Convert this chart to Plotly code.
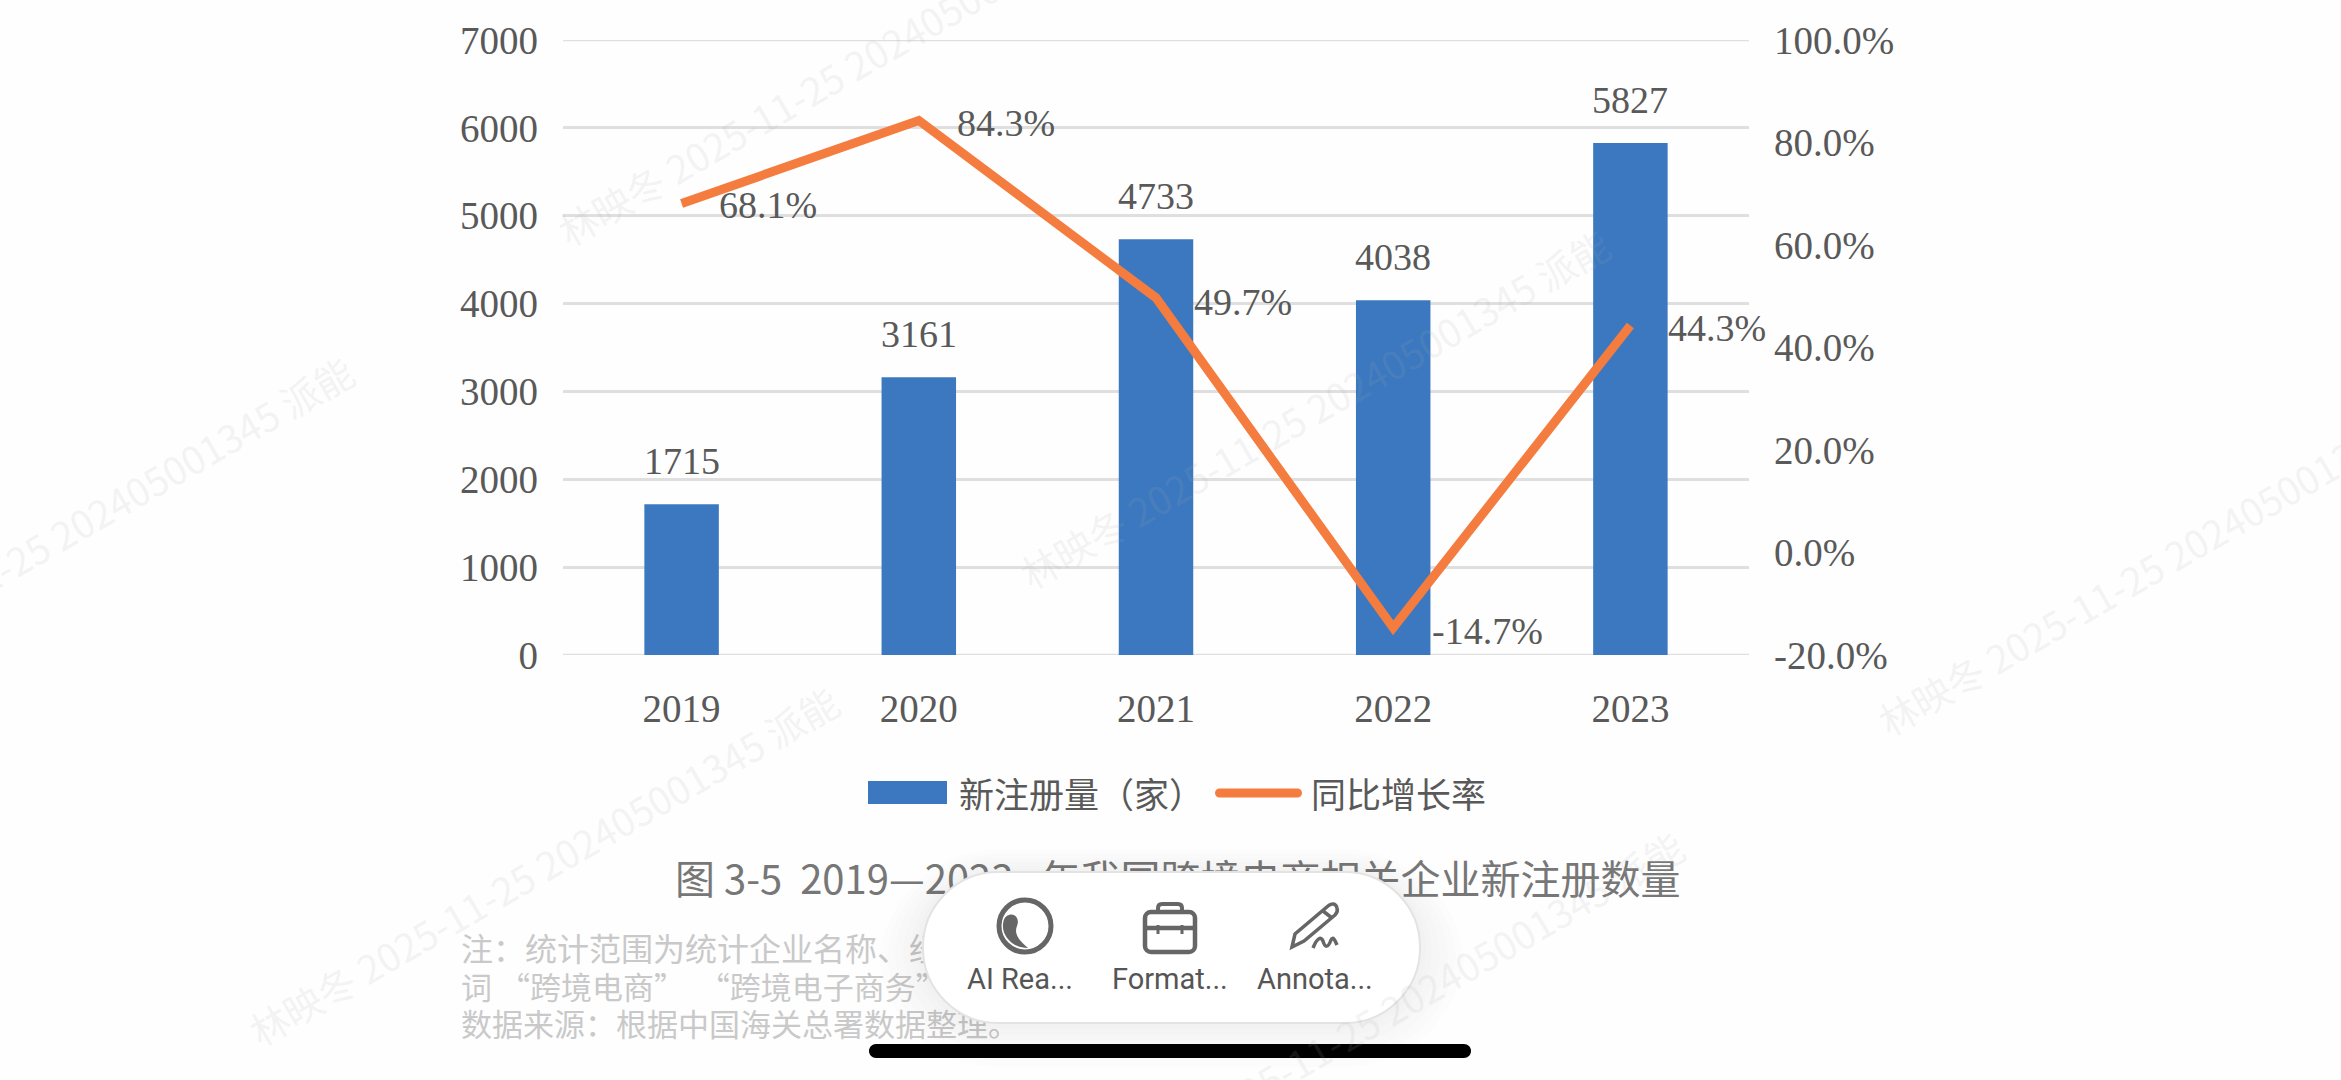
import plotly.graph_objects as go

# Chart data
years = ["2019", "2020", "2021", "2022", "2023"]
registrations = [1715, 3161, 4733, 4038, 5827]
growth_rates = [68.1, 84.3, 49.7, -14.7, 44.3]
rate_labels = ["68.1%", "84.3%", "49.7%", "-14.7%", "44.3%"]
rate_label_offsets = [(86, -2), (87, -3), (87, -4), (94, -3), (87, -3)]

count_ticks = [0, 1000, 2000, 3000, 4000, 5000, 6000, 7000]
rate_ticks = [-20, 0, 20, 40, 60, 80, 100]
rate_tick_labels = ["-20.0%", "0.0%", "20.0%", "40.0%", "60.0%", "80.0%", "100.0%"]

series_names = ["新注册量（家）", "同比增长率"]
caption = "图\u00a03-5\u00a0\u00a02019—2023\u00a0\u00a0\u00a0年我国跨境电商相关企业新注册数量"
note_lines = [
    "注：统计范围为统计企业名称、经营范围",
    "词\u00a0“跨境电商”\u00a0\u00a0“跨境电子商务”",
    "数据来源：根据中国海关总署数据整理。",
]
toolbar_labels = ["AI Rea...", "Format...", "Annota..."]
stamp_text = "林映冬 2025-11-25 202405001345 派能"

W, H = 2341, 1080
PLOT = (563, 1749, 40, 655)  # left, right, top, bottom in page pixels
BLUE, ORANGE = "#3C78BF", "#F47C3F"
TEXT = "#595959"
GRID = "#dfdfdf"
SERIF = "Liberation Serif"
CJK = "Noto Sans CJK SC"


def rounded(x0, y0, x1, y1, r):
    k = r * 0.45
    return (
        f"M{x0 + r},{y0} L{x1 - r},{y0} C{x1 - k},{y0} {x1},{y0 + k} {x1},{y0 + r} "
        f"L{x1},{y1 - r} C{x1},{y1 - k} {x1 - k},{y1} {x1 - r},{y1} "
        f"L{x0 + r},{y1} C{x0 + k},{y1} {x0},{y1 - k} {x0},{y1 - r} "
        f"L{x0},{y0 + r} C{x0},{y0 + k} {x0 + k},{y0} {x0 + r},{y0} Z"
    )


def page_shape(**kw):
    return dict(xref="x3", yref="y3", **kw)


fig = go.Figure()

fig.add_trace(go.Bar(
    x=years, y=registrations, name=series_names[0],
    marker=dict(color=BLUE, line=dict(width=0)),
    xaxis="x", yaxis="y", showlegend=False,
))
fig.add_trace(go.Scatter(
    x=years, y=growth_rates, name=series_names[1], mode="lines",
    line=dict(color=ORANGE, width=9, shape="linear"),
    xaxis="x", yaxis="y2", showlegend=False,
))

# Page-level text sits in a trace so the floating toolbar can cover it
fig.add_trace(go.Scatter(
    x=[675, 461, 461, 461], y=[884, 953, 991, 1028],
    text=[caption] + note_lines, mode="text", textposition="middle right",
    textfont=dict(family=CJK, size=[40, 32, 31, 31],
                  color=["#777777", "#c9c9c9", "#c9c9c9", "#c9c9c9"]),
    xaxis="x3", yaxis="y3", showlegend=False, hoverinfo="skip",
))

annotations = []

# Faint diagonal stamps across the page
for cx, cy in [(852, 65), (1314, 408), (58, 535), (543, 865),
               (2127, -45), (2172, 555), (1388, 1010)]:
    annotations.append(dict(
        xref="x3", yref="y3", x=cx, y=cy, text=stamp_text, showarrow=False,
        textangle=-30, font=dict(family=CJK, size=38.5, color="rgba(170,170,170,0.15)"),
    ))

for i, v in enumerate(registrations):
    annotations.append(dict(
        xref="x", yref="y", x=i, y=v, text=str(v), showarrow=False, yshift=43,
        font=dict(family=SERIF, size=38, color=TEXT),
    ))

for i, (v, lab, (dx, dy)) in enumerate(zip(growth_rates, rate_labels, rate_label_offsets)):
    annotations.append(dict(
        xref="x", yref="y2", x=i, y=v, text=lab, showarrow=False,
        xshift=dx, yshift=dy, font=dict(family=SERIF, size=38, color=TEXT),
    ))

# Legend row
annotations += [
    dict(xref="x3", yref="y3", x=957, y=792, xanchor="left", text=series_names[0],
         showarrow=False, font=dict(family=CJK, size=35, color=TEXT)),
    dict(xref="x3", yref="y3", x=1309, y=792, xanchor="left", text=series_names[1],
         showarrow=False, font=dict(family=CJK, size=35, color=TEXT)),
]

# Toolbar captions
for cx, lab in zip([1020, 1170, 1315], toolbar_labels):
    annotations.append(dict(
        xref="x3", yref="y3", x=cx, y=979, text=lab, showarrow=False,
        font=dict(family="Roboto", size=29, color="#555555"),
    ))

# Plotly leaves out gridlines that sit on the range ends, so draw those two here
shapes = [
    dict(type="line", xref="x domain", yref="y", x0=0, x1=1, y0=t, y1=t,
         line=dict(color=GRID, width=2.5), layer="below")
    for t in (count_ticks[0], count_ticks[-1])
]
shapes += [
    page_shape(type="rect", x0=868, x1=947, y0=781, y1=804,
               fillcolor=BLUE, line=dict(width=0)),
    page_shape(type="path", path=rounded(1215, 788.5, 1302, 797.5, 4.5),
               fillcolor=ORANGE, line=dict(width=0)),
]

# Toolbar shadow, body, icons and the home bar
for grow in [44, 36, 28, 20, 12, 6]:
    shapes.append(page_shape(
        type="path", path=rounded(923 - grow, 872 - grow * 0.5, 1420 + grow, 1023 + grow, 75 + grow),
        fillcolor="rgba(90,90,90,0.012)", line=dict(width=0), layer="above"))
shapes.append(page_shape(type="path", path=rounded(923, 872, 1420, 1023, 75),
                         fillcolor="#ffffff", line=dict(color="#e3e3e3", width=2), layer="above"))

ICON = "#666666"
shapes += [
    page_shape(type="circle", x0=999, x1=1051, y0=900, y1=952, fillcolor="rgba(0,0,0,0)",
               line=dict(color=ICON, width=5), layer="above"),
    page_shape(type="path",
               path="M1009,915 C1015,913 1020,919 1017,926 C1014,933 1018,940 1028,948 "
                    "C1012,948 1002,935 1003,925 C1003,920 1005,916 1009,915 Z",
               fillcolor=ICON, line=dict(width=0), layer="above"),
    page_shape(type="path", path=rounded(1145, 912, 1195, 952, 6), fillcolor="rgba(0,0,0,0)",
               line=dict(color=ICON, width=4.5), layer="above"),
    page_shape(type="path", path="M1145,928 L1195,928", line=dict(color=ICON, width=4.5), layer="above"),
    page_shape(type="path", path="M1158,911 L1158,908 C1158,905 1160,904 1162,904 L1178,904 "
                                 "C1180,904 1182,905 1182,908 L1182,911",
               line=dict(color=ICON, width=4), layer="above"),
    page_shape(type="path", path="M1158,925 L1158,934 M1182,925 L1182,934",
               line=dict(color=ICON, width=3), layer="above"),
    page_shape(type="path",
               path="M1292,947 L1295,934 L1328,906 C1331,903 1336,903 1337,908 C1338,911 1337,913 1335,915 "
                    "L1304,941 Z M1323,911 L1332,918",
               fillcolor="rgba(0,0,0,0)", line=dict(color=ICON, width=3.5), layer="above"),
    page_shape(type="path",
               path="M1313,948 C1317,938 1321,936 1323,941 C1325,948 1328,948 1331,940 C1333,936 1335,940 1337,945",
               line=dict(color=ICON, width=3.5), layer="above"),
    page_shape(type="path", path=rounded(869, 1044, 1471, 1058, 7), fillcolor="#000000",
               line=dict(width=0), layer="above"),
]

fig.update_layout(
    width=W, height=H, autosize=False,
    margin=dict(l=0, r=0, t=0, b=0, pad=0, autoexpand=False),
    paper_bgcolor="#fefefe", plot_bgcolor="rgba(0,0,0,0)",
    bargap=0.686, showlegend=False,
    annotations=annotations, shapes=shapes,
    xaxis=dict(
        domain=[PLOT[0] / W, PLOT[1] / W], anchor="y", type="category",
        categoryorder="array", categoryarray=years, range=[-0.5, 4.5],
        showgrid=False, zeroline=False, showline=False, ticks="", ticklabelstandoff=27,
        tickfont=dict(family=SERIF, size=39, color=TEXT),
    ),
    yaxis=dict(
        domain=[1 - PLOT[3] / H, 1 - PLOT[2] / H], anchor="x", range=[0, 7000],
        tickvals=count_ticks, showgrid=True, gridcolor=GRID, gridwidth=2.5,
        zeroline=False, showline=False, ticks="", ticklabelstandoff=24,
        tickfont=dict(family=SERIF, size=39, color=TEXT),
    ),
    yaxis2=dict(
        domain=[1 - PLOT[3] / H, 1 - PLOT[2] / H], anchor="x", overlaying="y", side="right",
        range=[-20, 100], tickvals=rate_ticks, ticktext=rate_tick_labels,
        showgrid=False, zeroline=False, showline=False, ticks="", ticklabelstandoff=24,
        tickfont=dict(family=SERIF, size=39, color=TEXT),
    ),
    # Full-page pixel axes for everything placed outside the plot area
    xaxis3=dict(domain=[0, 1], anchor="y3", range=[0, W], visible=False, fixedrange=True),
    yaxis3=dict(domain=[0, 1], anchor="x3", range=[H, 0], visible=False, fixedrange=True),
)

fig.write_html("out.html", config={"displayModeBar": False})
